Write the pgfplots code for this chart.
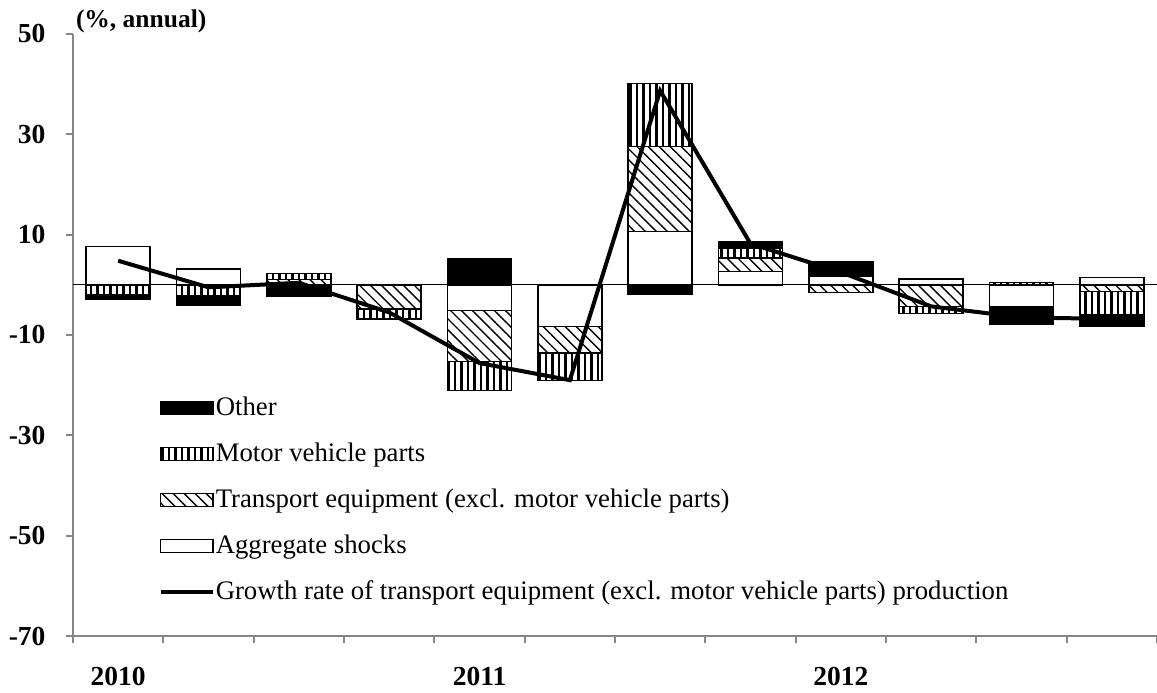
\documentclass[border=0pt]{standalone}
\usepackage{fontspec}
\setmainfont{Liberation Serif}
\usepackage{pgfplots}
\usepackage{pgfplotstable}
\pgfplotsset{compat=1.18}
\usetikzlibrary{patterns.meta}

% quarterly contributions, positive and negative parts stacked separately
% columns: A = aggregate shocks, T = transport equipment, M = motor vehicle parts, O = other
\pgfplotstableread{
x  A     T     M     O
1  7.6   0     0     0
2  3.2   0     0     0
3  0     1.1   1.2   0
4  0     0     0     0
5  0     0     0     5.1
6  0     0     0     0
7  10.6  17.0  12.5  0
8  2.7   2.6   1.9   1.4
9  1.8   0     0     2.7
10 1.2   0     0     0
11 0     0     0.5   0
12 1.5   0     0     0
}\postab

\pgfplotstableread{
x  A     T     M     O
1  0     0     -2.0  -0.9
2  0     0     -2.2  -1.9
3  -0.3  0     0     -2.0
4  0     -4.8  -2.0  0
5  -5.1  -10.2 -5.8  0
6  -8.3  -5.3  -5.5  0
7  0     0     0     -1.8
8  0     0     0     0
9  0     -1.5  0     0
10 0     -4.3  -1.4  0
11 -4.3  0     0     -3.5
12 0     -1.3  -4.7  -2.2
}\negtab

\pgfplotstableread{
x  g
1  4.8
2  -0.5
3  0.4
4  -5.5
5  -15.6
6  -19.0
7  38.7
8  8.2
9  2.5
10 -4.3
11 -6.5
12 -6.8
}\growth

\pgfplotsset{
  base/.style={
    at={(0,0)}, anchor=south west,
    scale only axis,
    width=433.6pt, height=240.8pt,
    xmin=0.5, xmax=12.5,
    ymin=-70, ymax=50,
    clip=false,
  },
  barbase/.style={ybar stacked, bar width=0.71, draw=black, line width=0.6pt},
  aggr/.style={barbase, fill=white},
  trans/.style={barbase, pattern={Lines[angle=-45,distance=3.1pt,line width=0.55pt]}},
  motor/.style={barbase, pattern={Lines[angle=90,distance=2.6pt,line width=1.05pt]}},
  other/.style={barbase, fill=black},
  barlegend/.style={legend image code/.code={\draw[##1] (0pt,-2.6pt) rectangle (21pt,2.6pt);}},
  linelegend/.style={legend image code/.code={\draw[##1] (0pt,0pt) -- (21pt,0pt);}},
}

\begin{document}
\begin{tikzpicture}
\begin{axis}[
  base,
  axis lines*=left,
  axis line style={draw=gray!95, line width=0.8pt},
  tick style={draw=gray!95, line width=0.8pt},
  tick align=outside,
  major tick length=3pt,
  ytick={-70,-50,-30,-10,10,30,50},
  yticklabels={-70,-50,-30,-10,10,30,50},
  yticklabel style={font=\fontsize{11}{13}\selectfont\bfseries, xshift=-4.5pt},
  xtick={0.5,1.5,...,12.5},
  xticklabels={},
  extra x ticks={1,5,9},
  extra x tick labels={2010,2011,2012},
  extra x tick style={major tick length=0pt,
    tick label style={font=\fontsize{11}{13}\selectfont\bfseries, yshift=-9pt}},
]
\addplot[black, line width=0.5pt, forget plot] coordinates {(0.5,0) (12.5,0)};
\addplot[aggr] table[x=x,y=A] {\postab};
\addplot[trans] table[x=x,y=T] {\postab};
\addplot[motor] table[x=x,y=M] {\postab};
\addplot[other] table[x=x,y=O] {\postab};
\node[anchor=base west, inner sep=0, font=\fontsize{10.2}{12}\selectfont\bfseries]
  at (rel axis cs:0,1) [xshift=1pt, yshift=2.6pt] {(\%, annual)};
\end{axis}

\begin{axis}[
  base,
  hide axis,
  legend cell align=left,
  legend style={draw=none, fill=none, at={(0.0715,0.415)}, anchor=north west,
    font=\fontsize{10.7}{12.8}\selectfont, row sep=5.5pt,
    nodes={inner xsep=0.3pt}},
]
\addplot[aggr, forget plot] table[x=x,y=A] {\negtab};
\addplot[trans, forget plot] table[x=x,y=T] {\negtab};
\addplot[motor, forget plot] table[x=x,y=M] {\negtab};
\addplot[other, forget plot] table[x=x,y=O] {\negtab};
\addplot[black, line width=1.6pt, forget plot] table[x=x,y=g] {\growth};

\addlegendimage{other, barlegend}
\addlegendentry{Other}
\addlegendimage{motor, barlegend}
\addlegendentry{Motor vehicle parts}
\addlegendimage{trans, barlegend}
\addlegendentry{Transport equipment (excl. motor vehicle parts)}
\addlegendimage{aggr, barlegend}
\addlegendentry{Aggregate shocks}
\addlegendimage{black, line width=1.6pt, linelegend}
\addlegendentry{Growth rate of transport equipment (excl. motor vehicle parts) production}
\end{axis}
\pgfresetboundingbox
\path (-29.2pt,-22.8pt) rectangle (433.6pt,254.4pt);
\end{tikzpicture}
\end{document}
